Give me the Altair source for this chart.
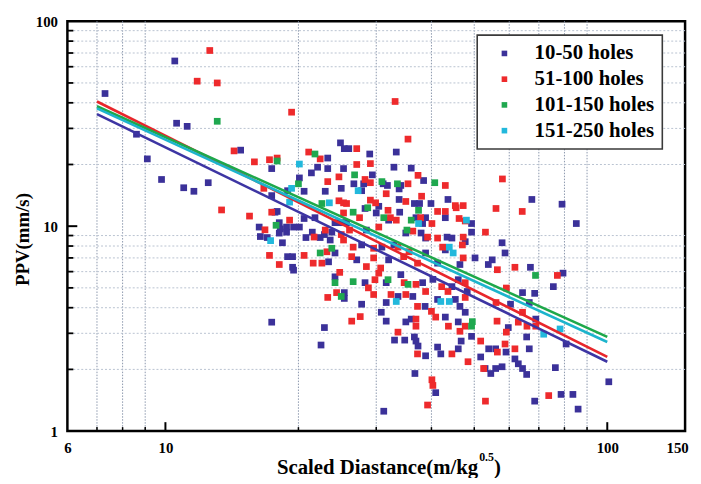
import altair as alt
import pandas as pd

# ---------------- data ----------------
series_names = ["10-50 holes", "51-100 holes", "101-150 holes", "151-250 holes"]
point_colors = ["#3b3199", "#ee2a2c", "#1fa84f", "#22b8dc"]
line_colors = ["#3d35a3", "#e8262b", "#1ea84a", "#1cb4cc"]

holes_10_50 = [
    (7.3, 44.4), (10.5, 64), (10.6, 31.8), (11.2, 30.7), (8.6, 28.1), (9.1, 21.3), (9.8, 16.9),
    (11.0, 15.4), (11.6, 14.8), (12.5, 16.3), (14.8, 23.5), (17.4, 19.1), (17.4, 14.1), (17.7, 11.7),
    (16.3, 9.9), (18.2, 9.7), (18.8, 9.9), (19.5, 9.9), (20.1, 9.9), (16.4, 8.9), (17.0, 8.8),
    (18.4, 8.3), (20.1, 17.2), (18.9, 14.9), (20.6, 14.8), (21.4, 18.2), (22.1, 19.4), (23.3, 21.5),
    (23.3, 19.1), (23.0, 14.8), (24.9, 25.5), (25.4, 23.9), (25.3, 19.1), (25.0, 15.3), (17.9, 11.8),
    (20.6, 10.9), (21.8, 11.0), (24.2, 10.4), (25.0, 10.4), (18.1, 10.4), (18.1, 9.25), (18.8, 9.35),
    (20.8, 8.8), (21.5, 9.35), (22.4, 8.8), (22.9, 9.1), (23.8, 9.35), (23.6, 8.56), (24.2, 7.4),
    (18.9, 7.1), (19.4, 7.1), (19.4, 6.3), (23.4, 6.7), (19.5, 6.1), (24.2, 5.66), (25.4, 4.74),
    (25.4, 4.44), (17.4, 3.4), (22.9, 3.2), (22.5, 2.63),
    (26.0, 23.9), (33.3, 23.0), (29.0, 22.5), (32.9, 19.4), (36.0, 19.2), (29.4, 17.8), (26.7, 16.1),
    (28.1, 16.1), (31.1, 16.1), (31.8, 15.8), (34.1, 15.8), (38.4, 16.7), (27.8, 14.9), (33.8, 15.2),
    (30.4, 12.5), (28.3, 12.2), (33.8, 13.5), (36.6, 12.9), (37.6, 12.9), (39.9, 12.9), (43.6, 13.5),
    (30.0, 11.6), (32.0, 10.7), (33.9, 11.7), (36.9, 11.0), (38.8, 11.0), (43.0, 11.0), (38.2, 10.3),
    (49.3, 10.3), (25.7, 10.4), (28.5, 9.57), (35.0, 9.26), (37.9, 9.26), (38.8, 8.75), (43.4, 8.84),
    (44.5, 8.75), (49.3, 9.35), (27.8, 8.1), (30.9, 7.9), (32.9, 8.1), (47.7, 8.4), (43.0, 7.66),
    (27.1, 6.85), (32.0, 6.85), (38.8, 7.4), (41.3, 6.6), (46.4, 6.5), (28.3, 5.3), (31.6, 5.3),
    (34.1, 5.8), (38.2, 5.3), (40.3, 5.5), (44.5, 5.07), (46.0, 5.48), (48.2, 4.8), (27.8, 4.16),
    (31.6, 4.24), (33.6, 4.54), (36.3, 4.54), (38.7, 4.06), (41.3, 4.39), (45.3, 4.39), (46.4, 4.06),
    (47.7, 3.8), (30.8, 3.8), (31.6, 3.44), (35.0, 3.41), (36.0, 3.52), (43.0, 3.6), (46.0, 3.41),
    (33.0, 2.78), (34.8, 2.78), (36.6, 2.88), (36.9, 2.75), (37.3, 2.6), (38.8, 2.33), (41.3, 2.57),
    (42.0, 2.38), (46.0, 2.52), (46.7, 2.75), (49.3, 2.9), (36.7, 1.91), (40.9, 1.54), (31.2, 1.25),
    (57.8, 8.3), (58.7, 7.4), (54.9, 6.85), (53.8, 6.5), (50.2, 7.0), (67.0, 6.3), (67.5, 13.5),
    (79.0, 12.8), (85.1, 10.3), (79.4, 5.9), (75.5, 5.07), (64.3, 4.74), (68.5, 4.7), (60.4, 4.16),
    (66.6, 4.24), (59.7, 3.2), (65.7, 2.88), (80.7, 2.66), (53.9, 2.52), (55.9, 2.52), (59.0, 2.43),
    (66.6, 2.52), (61.8, 2.25), (62.9, 2.13), (64.3, 2.02), (65.7, 1.89), (51.7, 2.3), (52.9, 2.02),
    (54.5, 1.91), (55.9, 2.02), (57.8, 2.06), (76.3, 2.04), (68.5, 1.4), (78.6, 1.51), (83.6, 1.51),
    (85.9, 1.28), (100.8, 1.74), (68.9, 3.52),
]

holes_51_100 = [
    (12.6, 72), (11.8, 51), (13.1, 50), (19.3, 36), (13.4, 12), (14.3, 23.3), (15.9, 20.6),
    (17.2, 21.1), (17.9, 21.5), (16.7, 15.3), (15.5, 11.2), (17.4, 11.7), (19.1, 10.7), (16.8, 9.6),
    (21.1, 23), (22.4, 21.3), (23.3, 16.5), (24.7, 17.4), (24.7, 13.3), (25.3, 13.0), (25.3, 11.6),
    (21.7, 8.85), (23.0, 9.57), (25.0, 9.1), (25.3, 8.56), (23.2, 7.5), (17.2, 7.2), (20.6, 7.2),
    (21.6, 6.6), (22.6, 6.6), (18.1, 6.5), (24.8, 5.95), (24.4, 4.74), (23.3, 4.49), (33.1, 40.6),
    (35.4, 26.6), (27.1, 23.9), (27.1, 20.0), (29.1, 20.2), (37.3, 17.7), (28.3, 16.9), (29.1, 16.3),
    (35.4, 16.1), (43.0, 15.8), (31.6, 14.4), (25.7, 12.9), (29.1, 13.4), (29.9, 13.0), (31.9, 11.95),
    (35.0, 13.2), (38.0, 14.0), (41.3, 11.8), (45.5, 12.3), (43.0, 11.8), (27.5, 11.0), (32.3, 11.0),
    (33.3, 10.7), (37.8, 11.0), (40.1, 10.3), (46.2, 10.9), (47.7, 10.6), (26.1, 9.57), (30.4, 9.9),
    (36.3, 9.46), (39.2, 8.84), (41.3, 8.75), (47.2, 8.84), (26.6, 7.9), (29.6, 7.8), (33.6, 7.9),
    (35.6, 7.5), (42.4, 7.9), (47.0, 8.1), (26.4, 7.1), (29.6, 7.0), (34.6, 7.1), (37.2, 6.6),
    (47.2, 7.0), (28.5, 6.35), (30.7, 6.25), (28.8, 5.0), (29.8, 5.48), (29.6, 4.64), (30.4, 5.9),
    (34.7, 5.3), (36.9, 5.2), (38.8, 4.8), (42.2, 5.07), (43.6, 4.8), (47.7, 5.3), (32.4, 4.64),
    (35.0, 4.64), (37.2, 4.06), (40.0, 3.84), (47.7, 4.49), (26.4, 3.44), (27.6, 3.62), (33.6, 3.04),
    (36.9, 3.52), (36.9, 3.25), (40.9, 3.6), (43.7, 3.25), (46.4, 3.07), (47.7, 3.25), (37.2, 2.38),
    (44.5, 2.38), (48.4, 2.18), (40.1, 1.78), (40.3, 1.67), (39.2, 1.34), (53.0, 1.40), (73.7, 1.49),
    (57.9, 17.0), (56.0, 12.2), (64.2, 11.8), (53.0, 9.35), (61.8, 6.3), (56.4, 6.13), (77.1, 5.75),
    (59.1, 4.99), (56.0, 4.24), (56.3, 3.44), (64.3, 3.8), (62.9, 3.4), (59.1, 3.04), (51.7, 2.75),
    (56.4, 2.43), (58.7, 2.66), (61.8, 2.52), (52.5, 2.02), (65.8, 3.25), (68.9, 3.25), (45.3, 12.6),
    (47.2, 12.6),
]

holes_101_150 = [
    (13.1, 32.5), (17.9, 20.8), (17.8, 10.1), (20.0, 16.1), (21.8, 22.5), (22.6, 12.9), (23.8, 7.8),
    (22.4, 7.4), (24.2, 5.3), (25.0, 4.54), (26.8, 17.8), (30.9, 16.5), (33.5, 16.1), (40.7, 16.3),
    (26.6, 11.7), (28.7, 12.3), (31.2, 11.0), (37.4, 11.95), (35.2, 9.57), (36.0, 10.7), (26.6, 5.36),
    (31.9, 5.48), (35.4, 5.2), (49.3, 3.25), (49.5, 3.42), (68.8, 5.75),
]

holes_151_250 = [
    (20.1, 20.1), (19.3, 15.3), (19.1, 13.1), (17.3, 8.5), (23.5, 13.0), (27.3, 14.9), (37.4, 10.3),
    (43.9, 7.9), (44.8, 7.4), (33.3, 4.29), (42.0, 4.29), (43.9, 4.29), (71.8, 2.97), (78.2, 3.15),
    (48.0, 10.7),
]

# fitted trend lines: PPV at scaled distance 7 and 100
fit_x = [7, 100]
fit_10_50 = [35.2, 2.18]
fit_51_100 = [40.6, 2.30]
fit_101_150 = [38.5, 2.88]
fit_151_250 = [37.6, 2.72]

# axis ticks
x_labels = [6, 10, 100, 150]
x_minor = [7, 8, 9, 20, 30, 40, 50, 60, 70, 80, 90]
x_major = [10, 100]
y_labels = [1, 10, 100]
y_minor = [2, 3, 4, 5, 6, 7, 8, 9, 20, 30, 40, 50, 60, 70, 80, 90]
y_major = [10]

# x-axis title, in three pieces: main text, superscript exponent, closing bracket
x_title_main = "Scaled Diastance(m/kg"
x_title_sup = "0.5"
x_title_end = ")"

# ---------------- build frames ----------------
pts = []
for name, data in zip(series_names, [holes_10_50, holes_51_100, holes_101_150, holes_151_250]):
    for x, y in data:
        pts.append({"x": x, "y": y, "series": name})
pts = pd.DataFrame(pts)

fits = []
for name, ys in zip(series_names, [fit_10_50, fit_51_100, fit_101_150, fit_151_250]):
    for x, y in zip(fit_x, ys):
        fits.append({"x": x, "y": y, "series": name})
fits = pd.DataFrame(fits)

W, H = 624, 414
FONT = "Liberation Serif"

xscale = alt.Scale(type="log", domain=[6, 150], nice=False)
yscale = alt.Scale(type="log", domain=[1, 100], nice=False)
xaxis = alt.Axis(values=x_labels, format="d", grid=False, ticks=False, domain=False,
                 labelFlush=False, labelOverlap=False, labelPadding=10,
                 labelOffset={"condition": {"test": "datum.value == 150", "value": -8}, "value": 0},
                 labelFont=FONT, labelFontSize=15, labelFontWeight="bold", labelColor="black",
                 title=None)
yaxis = alt.Axis(values=y_labels, format="d", grid=False, ticks=False, domain=False,
                 labelFlush=False, labelOverlap=False, labelPadding=10,
                 labelFont=FONT, labelFontSize=15, labelFontWeight="bold", labelColor="black",
                 title="PPV(mm/s)", titleFont=FONT, titleFontSize=19, titleFontWeight="bold",
                 titleColor="black", titleX=-39, titleY=220, titleBaseline="alphabetic")


def X(field="x"):
    return alt.X(f"{field}:Q", scale=xscale, axis=xaxis)


def Y(field="y"):
    return alt.Y(f"{field}:Q", scale=yscale, axis=yaxis)


gx = alt.Chart(pd.DataFrame({"x": x_minor})).mark_rule(
    color="#8c98ad", strokeDash=[1.5, 1.5], strokeWidth=1).encode(x=X())
gy = alt.Chart(pd.DataFrame({"y": y_minor})).mark_rule(
    color="#b9c2d0", strokeDash=[2, 2], strokeWidth=1).encode(y=Y())

points = alt.Chart(pts).mark_square(size=46, opacity=1, strokeWidth=0).encode(
    x=X(), y=Y(),
    color=alt.Color("series:N", sort=series_names,
                    scale=alt.Scale(domain=series_names, range=point_colors),
                    legend=alt.Legend(
                        title=None, orient="none", legendX=414, legendY=14,
                        symbolType="square", symbolSize=32, symbolStrokeWidth=0,
                        symbolOffset=9, labelOffset=20,
                        labelFont=FONT, labelFontSize=21, labelFontWeight="bold",
                        labelColor="black", rowPadding=4, padding=8,
                        labelExpr="datum.label + '\u00a0\u00a0\u00a0'",
                        fillColor="white", strokeColor="#3a3a3a")),
)

lines = alt.Chart(fits).mark_line(strokeWidth=2.6).encode(
    x=X(), y=Y(),
    color=alt.Color("series:N", sort=series_names,
                    scale=alt.Scale(domain=series_names, range=line_colors), legend=None),
)

tb_minor = alt.Chart(pd.DataFrame({"x": x_minor})).mark_rule(color="black", strokeWidth=1.5).encode(
    x=X(), y=alt.value(H), y2=alt.value(H - 4))
tb_major = alt.Chart(pd.DataFrame({"x": x_major})).mark_rule(color="black", strokeWidth=2).encode(
    x=X(), y=alt.value(H), y2=alt.value(H - 9))
tl_minor = alt.Chart(pd.DataFrame({"y": y_minor})).mark_rule(color="black", strokeWidth=1.8).encode(
    y=Y(), x=alt.value(0), x2=alt.value(6))
tl_major = alt.Chart(pd.DataFrame({"y": y_major})).mark_rule(color="black", strokeWidth=2).encode(
    y=Y(), x=alt.value(0), x2=alt.value(10))

# x-axis title pieces (text marks placed under the plot)
title_main = alt.Chart(pd.DataFrame({"t": [x_title_main]})).mark_text(
    font=FONT, fontSize=21, fontWeight="bold", color="black", align="right", baseline="middle"
).encode(text="t:N", x=alt.value(415), y=alt.value(451))
title_sup = alt.Chart(pd.DataFrame({"t": [x_title_sup]})).mark_text(
    font=FONT, fontSize=12, fontWeight="bold", color="black", align="left", baseline="middle"
).encode(text="t:N", x=alt.value(416), y=alt.value(440))
title_end = alt.Chart(pd.DataFrame({"t": [x_title_end]})).mark_text(
    font=FONT, fontSize=21, fontWeight="bold", color="black", align="left", baseline="middle"
).encode(text="t:N", x=alt.value(431), y=alt.value(451))

chart = alt.layer(gx, gy, points, lines, tb_minor, tb_major, tl_minor, tl_major,
                  title_main, title_sup, title_end).resolve_scale(
    color="independent"
).properties(
    width=W, height=H,
    padding={"left": 60, "top": 11, "right": 8, "bottom": 45},
    autosize=alt.AutoSizeParams(type="none"),
    background="white",
).configure_view(
    stroke="black", strokeWidth=2.5
).configure_legend(
    strokeWidth=1.6
)

chart.save("out.html", embed_options={"renderer": "svg", "actions": False})
